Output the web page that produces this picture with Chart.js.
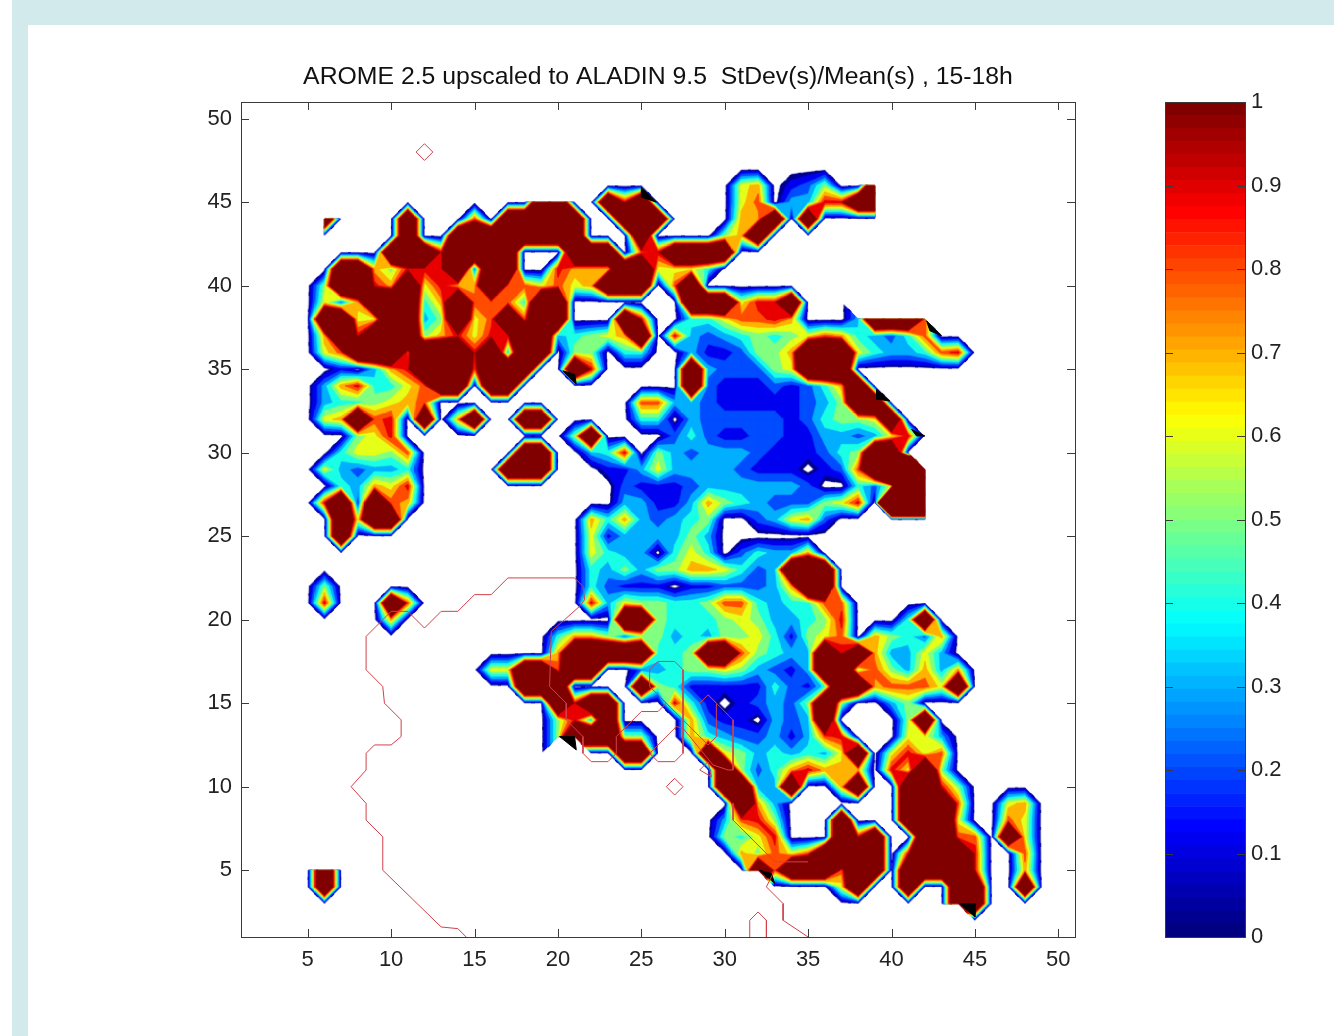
<!DOCTYPE html>
<html><head><meta charset="utf-8">
<style>
html,body{margin:0;padding:0;background:#fff;width:1334px;height:1036px;overflow:hidden}
.band{position:absolute;background:#d3eaec}
canvas{position:absolute;top:0}
</style>
<script src="https://cdn.jsdelivr.net/npm/chart.js@4/dist/chart.umd.min.js"></script>
</head><body>
<div class="band" style="left:12px;top:0;width:1322px;height:25px"></div>
<div class="band" style="left:12px;top:0;width:16px;height:1036px"></div>
<canvas id="main" width="1150" height="1036" style="left:0"></canvas>
<canvas id="bar" width="184" height="1036" style="left:1150px"></canvas>
<script>
const titleText = 'AROME 2.5 upscaled to ALADIN 9.5  StDev(s)/Mean(s) , 15-18h';
const xTicks = [5,10,15,20,25,30,35,40,45,50];
const yTicks = [5,10,15,20,25,30,35,40,45,50];
const barTicks = [0,0.1,0.2,0.3,0.4,0.5,0.6,0.7,0.8,0.9,1];
// bands of the filled contours, from level 0 to level 1
const bandLevels = [0.05,0.1,0.2,0.3,0.4,0.5,0.6,0.7,0.8,0.9,1];
const bandColors = ['#00008f','#0000f0','#004cff','#00b0ff','#19ffe6','#80ff80','#e6ff19','#ffb200','#ff4c00','#e80000','#800000'];
// field, one string per row; first row is y=47, x runs 1..50
// . = zero, digit d = band d (d/10 .. d/10+0.1), X = above 1, Z = far above 1, # = no data
const topRowY = 47;
const fieldRows = [
".....................................###",
".................####.........67.125..X#",
"....###...........XX..X9X.....68.3399XX#",
"....#X....X...8.XXXXX..XXX....77X.X....#",
"....#.#...X..XXXXXXXX...X....57X",
".........XXX9XXXX...XXX.89XXXX",
"......XX75999X2XX..9777XX6664",
".....5XX97X6977X886867XXX.8X",
".....627XXX47X8884XX.......XXX699X...#####",
".....XX66XX35X68X8XX...X9..4468897...3XXX8#",
".....7X9XXX579699XX34567X.9323454568743248",
".....68XXX8XXX9X3XX.55.44..3112557XXX6433489",
"......1.379XXX8XXX..X9.....X322256XXX",
".....3794468XX.XX..........X211121247X",
".....3445678............8833211111235XX",
".....67X89.X.7X..XX.....44.322222124556X",
".......569..........5X....242112211332369",
"......46658......XX..349.5323332111245XX.#",
".....632334.....XXX...113633332111.128XZZZ#",
"......43769............211123333332..426ZZ#",
".....9X1X87............331137543222569.ZZZ#",
"......X6XX...........74732345..23672......#",
"......X..............61333353",
".....................6433.464.24337",
".....................435355776423XXX",
".....5...............42111.1122237XX",
".....9...X8..........9365544588434488",
".........7.............XX544456533459...4X",
"...................477525534355641568.75427",
"...................7XXXXX445XX85433X9X73363",
"...............66XX8XX..23455653213XX5853737",
".................XXX....X54111114214XX78886X",
"...................X9XX...941.12325X5..35",
"...................593X....7211.323X....5X",
"...................5XXX55..7432231389...663",
"...................##..XX...X65343436X.6968",
".............................X52479777.96X5",
".............................XX33X..7X..XX95",
"..............................X73.......XXX8..67",
".............................3895...X...XXX6..86",
".............................5469...X9X..XX88.X6",
"....###.......................75868XXXX.9XXX9..8",
".....X.........................X8XXX8XX.XXXX9..7",
".....X........................##....6X..X..XX..X",
"...........................................XX",
"..........................................##"
];
const aboveOne = 2;
const farAboveOne = 5;
// coast lines
const coastX = [14.5,14,13,9.5,9.5,8.5,8.5,7.6,8.5,8.5,9,10,10.6,10.6,9.6,9.5,8.5,8.5,9.4,10,11,12,13,14,15,16,17,21,21.5,21.6,21.3,20.4,19.6,19.5,20.5,20.5,21.5,21.5,22,23,23.5,23.5,25,26,26.5,26,25.5,25.5,26,27,27.5,27.5,27,26,25.5,27.1,27.5,29.3,30.2];
const coastY = [1,1.5,1.6,5,7,8,9,10,11,12,12.5,12.5,13,14,15,16,17,19,19.9,20.5,20.5,19.5,20.5,20.5,21.5,21.5,22.5,22.5,22,21.2,20.8,20,19.3,16,15,14,13,12,11.5,11.5,12,13,14.5,14.5,15,15.5,16,17,17.5,17.5,17,12,11.5,11.5,12,13.6,13.5,11.3,11];
const coast2X = [26,29,29.5,29.5,29,28.5];
const coast2Y = [15.5,12.5,13,15,15.5,15];
const coast3X = [29,30.5,30.5,30.2];
const coast3Y = [15.5,14,11,11];
const coast4X = [30.5,30.5,33,35];
const coast4Y = [9,8,5.5,5.5];
const coast5X = [33,32.5,33.5,33.5,35];
const coast5Y = [5,4,3,2,1];
const coast6X = [31.5,31.5,32,32.5,32.5];
const coast6Y = [1,2,2.5,2,1];
const diamond1X = [11.5,12,12.5,12,11.5];
const diamond1Y = [48,48.5,48,47.5,48];
const diamond2X = [26.5,27,27.5,27,26.5];
const diamond2Y = [10,10.5,10,9.5,10];
const diamond3X = [28.5,29,29.2,28.5];
const diamond3Y = [11,11.5,10.6,11];
// small black patches at the cut edges
const blackPatches = [
 [[25,45.9],[25.9,45],[25,45.3],[25,45.9]],
 [[20.3,34.9],[21.1,34.1],[21,34.7],[20.3,34.9]],
 [[39.1,33.8],[39.9,33.1],[39.1,33.2],[39.1,33.8]],
 [[41.2,31.4],[42,31],[41.5,31],[41.2,31.4]],
 [[42.1,37.9],[43,37],[42.3,37.3],[42.1,37.9]],
 [[20.1,13],[21,13],[21.1,12.2],[20.1,13]],
 [[32.1,5],[33,4.2],[32.8,4.8],[32.1,5]],
 [[44.1,3],[45,3],[45,2.2],[44.1,3]]
];

const FONT = 'Liberation Sans';
const decode = c => c==='.'?0 : c==='#'?NaN : c==='X'?aboveOne : c==='Z'?farAboveOne : +c/10+0.05;
function fieldAt(ix,iy){
  const r = fieldRows[topRowY-iy];
  if(r===undefined || ix<1 || ix>50) return 0;
  const c = r[ix-1];
  return c===undefined?0:decode(c);
}
// corners of one grid cell with a value; one missing corner leaves a triangle
function cellCorners(ix,iy){
  const cs=[[ix,iy],[ix+1,iy],[ix+1,iy+1],[ix,iy+1]].map(p=>({x:p[0],y:p[1],v:fieldAt(p[0],p[1])}));
  const ok=cs.filter(c=>!Number.isNaN(c.v));
  return ok.length>=3?ok:[];
}
// the part of a cell at or above one level (straight contour edges)
function clipLevel(cs,t){
  const out=[];
  for(let i=0;i<cs.length;i++){
    const p=cs[i],q=cs[(i+1)%cs.length];
    if(p.v>=t) out.push(p);
    if((p.v>=t)!==(q.v>=t)){const f=(t-p.v)/(q.v-p.v);out.push({x:p.x+(q.x-p.x)*f,y:p.y+(q.y-p.y)*f});}
  }
  return out;
}
const TILE=20;
function makeTile(px,py,spx,spy){
  const cv=document.createElement('canvas'); cv.width=cv.height=TILE;
  const g=cv.getContext('2d');
  g.lineWidth=0.6;g.lineJoin='round';
  bandLevels.forEach((t,b)=>{
    g.fillStyle=g.strokeStyle=bandColors[b];
    for(const [ix,iy] of [[px-1,py-1],[px,py-1],[px-1,py],[px,py]]){
      const poly=clipLevel(cellCorners(ix,iy),t);
      if(poly.length<3) continue;
      g.beginPath();
      poly.forEach((q,i)=>{const X=TILE/2+(q.x-px)*spx,Y=TILE/2-(q.y-py)*spy; i?g.lineTo(X,Y):g.moveTo(X,Y);});
      g.closePath();g.fill();g.stroke();
    }
  });
  return cv;
}
const cells=[];
for(let y=1;y<=50;y++)for(let x=1;x<=50;x++){
  let on=false;
  for(const dx of [-1,0,1])for(const dy of [-1,0,1]){const v=fieldAt(x+dx,y+dy); if(v>0) on=true;}
  if(on) cells.push({x,y});
}
const tiles=new Map();
function cellStyle(ctx){
  const p=ctx.raw; if(!p) return 'circle';
  const key=p.x+'_'+p.y;
  if(!tiles.has(key)){
    const sc=ctx.chart.scales;
    const spx=sc.x.getPixelForValue(2)-sc.x.getPixelForValue(1), spy=sc.y.getPixelForValue(1)-sc.y.getPixelForValue(2);
    if(!(spx>5&&spy>5)) return 'circle';
    tiles.set(key,makeTile(p.x,p.y,spx,spy));
  }
  return tiles.get(key);
}
const pts=(xs,ys)=>xs.map((x,i)=>({x,y:ys[i]}));
const lineDs=(xs,ys)=>({data:pts(xs,ys),showLine:true,borderColor:'#d2404a',borderWidth:1,pointRadius:0,order:1,fill:false,tension:0});
const boxTicks={id:'boxTicks',afterDraw(c){
  const g=c.ctx,a=c.chartArea,L=8;
  g.save();g.strokeStyle='#3a3a3a';g.lineWidth=1;g.beginPath();
  if(c.canvas.id==='main') for(const t of c.scales.x.ticks){const p=Math.round(c.scales.x.getPixelForValue(t.value))+.5;g.moveTo(p,a.bottom);g.lineTo(p,a.bottom-L);g.moveTo(p,a.top);g.lineTo(p,a.top+L);}
  for(const t of c.scales.y.ticks){const p=Math.round(c.scales.y.getPixelForValue(t.value))+.5;g.moveTo(a.left,p);g.lineTo(a.left+L,p);g.moveTo(a.right,p);g.lineTo(a.right-L,p);}
  g.stroke();
  g.strokeRect(Math.round(a.left)+.5,Math.round(a.top)+.5,Math.round(a.right-a.left),Math.round(a.bottom-a.top));
  g.restore();
}};
new Chart(document.getElementById('main'),{
  type:'scatter',
  plugins:[boxTicks],
  data:{datasets:[
    {label:'field',data:cells,pointStyle:cellStyle,pointRadius:10,borderWidth:0,order:3},
    ...blackPatches.map(p=>({data:p.map(q=>({x:q[0],y:q[1]})),showLine:true,fill:'shape',backgroundColor:'#000',borderColor:'#000',borderWidth:1,pointRadius:0,order:2})),
    lineDs(coastX,coastY),lineDs(coast2X,coast2Y),lineDs(coast3X,coast3Y),lineDs(coast4X,coast4Y),lineDs(coast5X,coast5Y),lineDs(coast6X,coast6Y),
    lineDs(diamond1X,diamond1Y),lineDs(diamond2X,diamond2Y),lineDs(diamond3X,diamond3Y)
  ]},
  options:{
    responsive:false,animation:false,events:[],
    layout:{padding:{left:181,right:75,top:0,bottom:49}},
    plugins:{legend:{display:false},tooltip:{enabled:false},
      title:{display:true,text:titleText,fullSize:false,color:'#111',font:{family:FONT,size:24.8,weight:'normal',lineHeight:1.2},padding:{top:62,bottom:10.2}}},
    scales:{
      x:{type:'linear',min:1,max:51,grid:{display:false,drawTicks:false},border:{display:false},
        afterBuildTicks(ax){ax.ticks=xTicks.map(value=>({value}));},
        afterFit(ax){ax.height=50;},
        ticks:{color:'#222',font:{family:FONT,size:22},padding:10,maxRotation:0,autoSkip:false}},
      y:{type:'linear',min:1,max:51,grid:{display:false,drawTicks:false},border:{display:false},
        afterBuildTicks(ax){ax.ticks=yTicks.map(value=>({value}));},
        afterFit(ax){ax.width=60;},
        ticks:{color:'#222',font:{family:FONT,size:22},padding:9,autoSkip:false}}
    }
  }
});
// colour bar
function jet(t){
  const f=s=>Math.max(0,Math.min(1,s));
  return 'rgb('+[f(1.5-Math.abs(4*t-3)),f(1.5-Math.abs(4*t-2)),f(1.5-Math.abs(4*t-1))].map(v=>Math.round(v*255)).join(',')+')';
}
const barLevels=64;
const barSets=[];
for(let i=0;i<barLevels;i++) barSets.push({data:[1/barLevels],backgroundColor:jet(i/(barLevels-1)),borderWidth:0,barPercentage:1,categoryPercentage:1,stack:'s'});
new Chart(document.getElementById('bar'),{
  type:'bar',
  plugins:[boxTicks],
  data:{labels:['c'],datasets:barSets},
  options:{
    responsive:false,animation:false,events:[],
    layout:{padding:{left:15,right:0,top:102,bottom:49}},
    plugins:{legend:{display:false},tooltip:{enabled:false},title:{display:false}},
    scales:{
      x:{stacked:true,display:true,grid:{display:false,drawTicks:false},border:{display:false},ticks:{display:false},afterFit(ax){ax.height=50;}},
      y:{stacked:true,position:'right',min:0,max:1,grid:{display:false,drawTicks:false},border:{display:false},
        afterBuildTicks(ax){ax.ticks=barTicks.map(value=>({value}));},
        afterFit(ax){ax.width=89;},
        ticks:{color:'#222',font:{family:FONT,size:22},padding:6,autoSkip:false,callback:v=>String(v)}}
    }
  }
});
</script>
</body></html>
